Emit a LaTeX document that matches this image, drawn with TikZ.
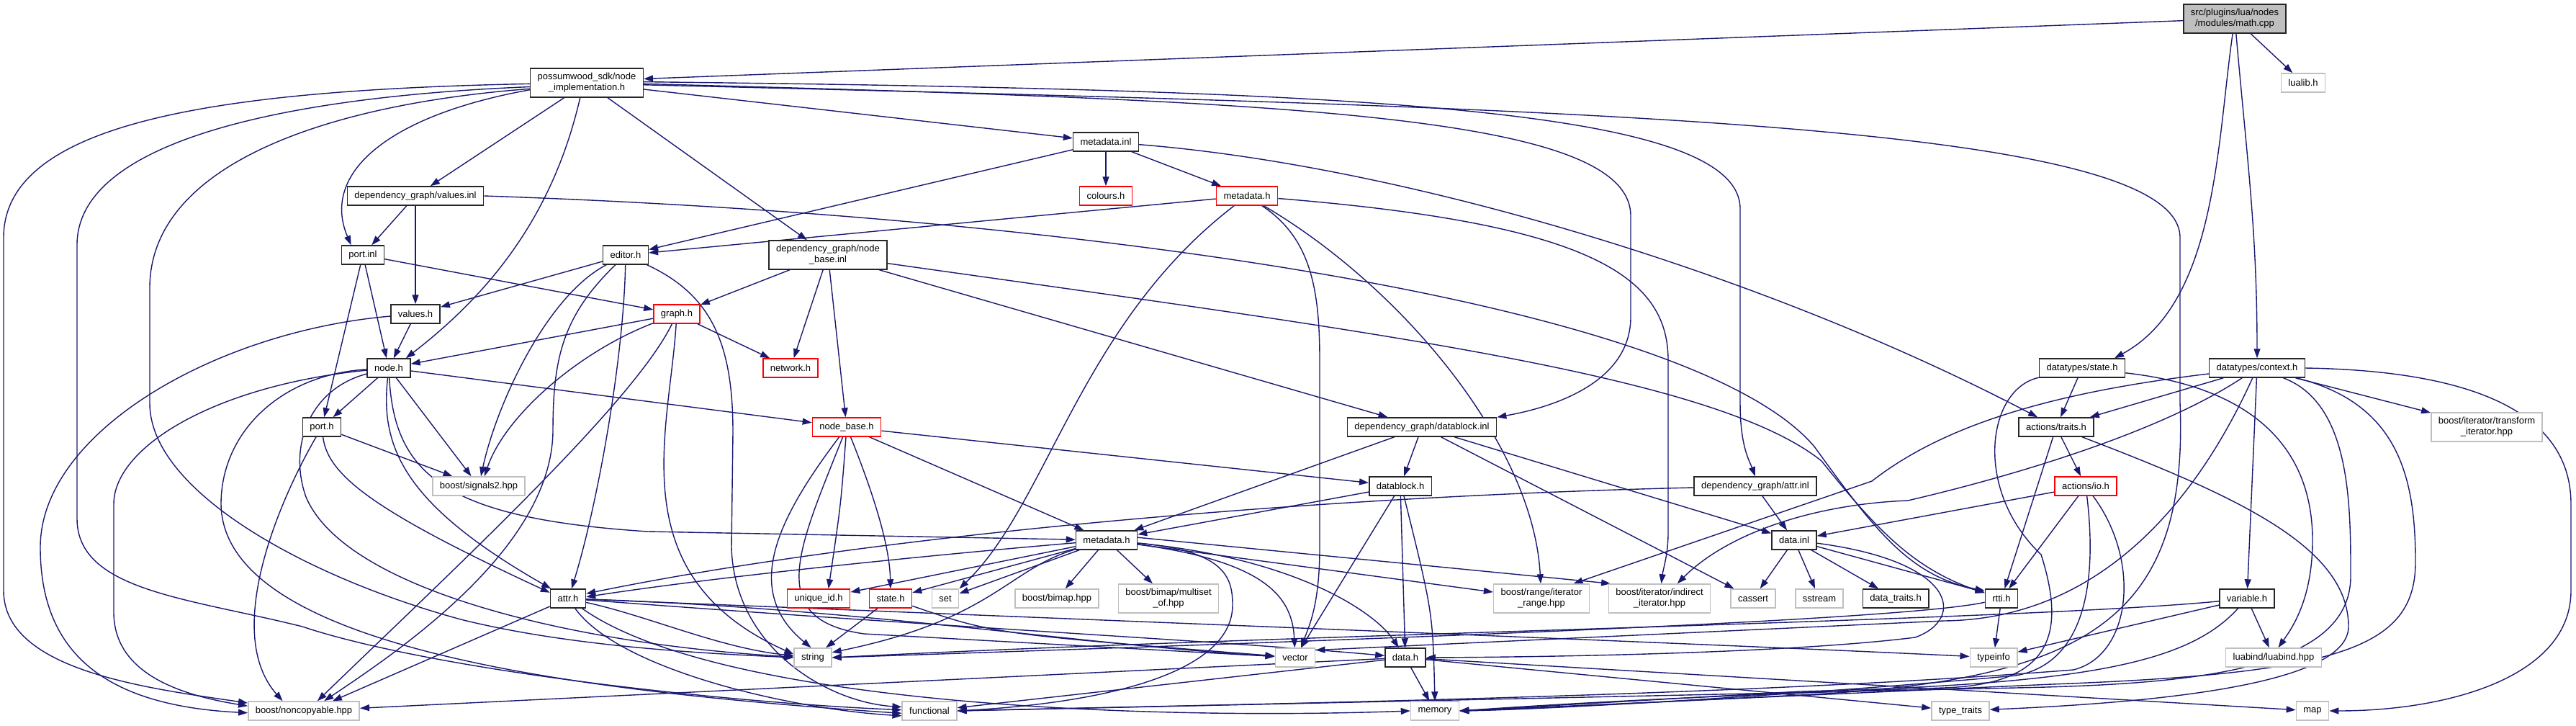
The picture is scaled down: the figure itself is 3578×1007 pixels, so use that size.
\documentclass[tikz,border=0pt]{standalone}
\usepackage{fontspec}
\setmainfont{Liberation Sans}
\usepackage{tikz}
\usetikzlibrary{
  arrows.meta,
  backgrounds
}
\definecolor{inclblue}{RGB}{25,25,112}
\definecolor{sysgray}{RGB}{191,191,191}
\definecolor{cutred}{RGB}{255,0,0}
\tikzset{
  filebox/.style={
    draw,
    line width=1.5pt,
    fill=white,
    align=center,
    inner xsep=10pt,
    inner ysep=0pt,
    minimum height=26pt,
    font=\fontsize{13}{15}\selectfont
  },
  twoline/.style={minimum height=40pt},
  docfile/.style={filebox,draw=black!85},
  cutfile/.style={filebox,draw=cutred},
  sysfile/.style={filebox,draw=sysgray},
  rootfile/.style={filebox,draw=black!85,fill=sysgray,twoline},
  incl/.style={-{Triangle[length=13pt,width=9pt]},line width=1.4pt,draw=inclblue,line join=round}
}
\begin{document}
\begin{tikzpicture}[x=1pt,y=-1pt]
  \useasboundingbox (0,0) rectangle (3578,1007);
  \node[rootfile] (mathcpp) at (3104,26) {src/plugins/lua/nodes\\/modules/math.cpp};
  \node[sysfile] (lualib) at (3199,115) {lualib.h};
  \node[docfile,twoline] (nodeimpl) at (815,115) {possumwood\_sdk/node\\\_implementation.h};
  \node[docfile] (metainl) at (1536,197) {metadata.inl};
  \node[docfile] (valuesinl) at (577,272) {dependency\_graph/values.inl};
  \node[cutfile] (colours) at (1536,272) {colours.h};
  \node[cutfile] (metahred) at (1732,272) {metadata.h};
  \node[docfile] (portinl) at (504,354) {port.inl};
  \node[docfile] (editor) at (869,354) {editor.h};
  \node[docfile,twoline] (nodebaseinl) at (1150,354) {dependency\_graph/node\\\_base.inl};
  \node[docfile] (valuesh) at (577,436) {values.h};
  \node[cutfile] (graphh) at (940,436) {graph.h};
  \node[docfile] (nodeh) at (540,511) {node.h};
  \node[cutfile] (networkh) at (1098,511) {network.h};
  \node[docfile] (stateds) at (2892,511) {datatypes/state.h};
  \node[docfile] (contextds) at (3135,511) {datatypes/context.h};
  \node[docfile] (porth) at (447,593) {port.h};
  \node[cutfile] (nodebaseh) at (1176,593) {node\_base.h};
  \node[docfile] (datablockinl) at (1975,593) {dependency\_graph/datablock.inl};
  \node[docfile] (traitsh) at (2856,593) {actions/traits.h};
  \node[sysfile,twoline] (transformit) at (3454,593) {boost/iterator/transform\\\_iterator.hpp};
  \node[sysfile] (signals) at (665,675) {boost/signals2.hpp};
  \node[docfile] (datablockh) at (1945,675) {datablock.h};
  \node[docfile] (attrinl) at (2438,675) {dependency\_graph/attr.inl};
  \node[cutfile] (ioh) at (2897,675) {actions/io.h};
  \node[docfile] (metah) at (1537,750) {metadata.h};
  \node[docfile] (datainl) at (2492,750) {data.inl};
  \node[docfile] (attrh) at (789,831) {attr.h};
  \node[cutfile] (uniqueid) at (1137,831) {unique\_id.h};
  \node[cutfile] (stateh) at (1237,831) {state.h};
  \node[sysfile] (set) at (1313,831) {set};
  \node[sysfile] (bimap) at (1468,831) {boost/bimap.hpp};
  \node[sysfile,twoline] (multiset) at (1623,831) {boost/bimap/multiset\\\_of.hpp};
  \node[sysfile,twoline] (iterrange) at (2141,831) {boost/range/iterator\\\_range.hpp};
  \node[sysfile,twoline] (indirect) at (2305,831) {boost/iterator/indirect\\\_iterator.hpp};
  \node[sysfile] (cassert) at (2435,831) {cassert};
  \node[sysfile] (sstream) at (2527,831) {sstream};
  \node[docfile] (datatraits) at (2633,831) {data\_traits.h};
  \node[docfile] (rttih) at (2780,831) {rtti.h};
  \node[docfile] (variableh) at (3121,831) {variable.h};
  \node[sysfile] (string) at (1129,913) {string};
  \node[sysfile] (vector) at (1799,913) {vector};
  \node[docfile] (datah) at (1952,913) {data.h};
  \node[sysfile] (typeinfo) at (2769,913) {typeinfo};
  \node[sysfile] (luabind) at (3158,913) {luabind/luabind.hpp};
  \node[sysfile] (noncopyable) at (422,987) {boost/noncopyable.hpp};
  \node[sysfile] (functional) at (1291,987) {functional};
  \node[sysfile] (memory) at (1993,987) {memory};
  \node[sysfile] (typetraits) at (2723,987) {type\_traits};
  \node[sysfile] (map) at (3212,987) {map};
  \begin{scope}[on background layer]
    \draw[incl] (mathcpp) -- (nodeimpl.4);
    \draw[incl] (mathcpp) -- (lualib);
    \draw[incl] (mathcpp.262) .. controls (3079,200) and (3079,420) .. (stateds.17);
    \draw[incl] (mathcpp.275) to[out=-85,in=90] (contextds.north);
    \draw[incl] (nodeimpl.181) .. controls (300,125) and (5,170) .. (5,330) -- (5,820) .. controls (5,930) and (200,955) .. (noncopyable.172);
    \draw[incl] (nodeimpl.184) .. controls (380,135) and (107,200) .. (107,340) -- (107,720) .. controls (107,820) and (260,830) .. (420,870) .. controls (600,930) and (1000,975) .. (functional.178);
    \draw[incl] (nodeimpl.186) .. controls (450,145) and (208,230) .. (208,400) -- (208,560) .. controls (208,680) and (420,800) .. (640,860) .. controls (800,900) and (1000,908) .. (string.west);
    \draw[incl] (nodeimpl.187) .. controls (540,160) and (445,240) .. (portinl.140);
    \draw[incl] (nodeimpl) -- (valuesinl);
    \draw[incl] (nodeimpl.246) .. controls (770,290) and (690,400) .. (nodeh.30);
    \draw[incl] (nodeimpl) -- (nodebaseinl);
    \draw[incl] (nodeimpl) -- (metainl);
    \draw[incl] (nodeimpl.359) .. controls (1800,140) and (2265,160) .. (2265,300) -- (2265,440) .. controls (2265,530) and (2160,565) .. (datablockinl.north east);
    \draw[incl] (nodeimpl.1) .. controls (1900,125) and (2417,150) .. (2417,290) -- (2417,560) .. controls (2417,620) and (2430,640) .. (attrinl.north);
    \draw[incl] (nodeimpl.358) .. controls (2200,150) and (3028,170) .. (3028,330) -- (3028,560) .. controls (3040,860) and (2900,945) .. (2500,965) .. controls (2200,980) and (2100,985) .. (memory.east);
    \draw[incl] (metainl) -- (colours);
    \draw[incl] (metainl) -- (metahred);
    \draw[incl] (metainl) -- (editor);
    \draw[incl] (metainl) .. controls (1950,230) and (2450,380) .. (traitsh.152);
    \draw[incl] (valuesinl) -- (portinl);
    \draw[incl] (valuesinl) -- (valuesh);
    \draw[incl] (valuesinl.east) .. controls (1500,300) and (2350,420) .. (2520,620) .. controls (2600,730) and (2650,800) .. (rttih.155);
    \draw[incl] (portinl) -- (nodeh);
    \draw[incl] (portinl) -- (porth);
    \draw[incl] (portinl) -- (graphh);
    \draw[incl] (editor) -- (valuesh);
    \draw[incl] (editor) .. controls (760,410) and (690,560) .. (signals);
    \draw[incl] (editor) .. controls (780,440) and (768,500) .. (768,600) .. controls (765,760) and (560,900) .. (noncopyable.26);
    \draw[incl] (editor) .. controls (866,500) and (830,700) .. (attrh.70);
    \draw[incl] (editor) .. controls (990,410) and (1018,480) .. (1018,600) -- (1016,760) .. controls (1020,900) and (1150,975) .. (functional.172);
    \draw[incl] (valuesh) -- (nodeh);
    \draw[incl] (valuesh) .. controls (300,460) and (56,600) .. (56,760) .. controls (56,910) and (150,980) .. (noncopyable.182);
    \draw[incl] (graphh) -- (nodeh);
    \draw[incl] (graphh) -- (networkh);
    \draw[incl] (graphh) .. controls (800,490) and (700,580) .. (signals.60);
    \draw[incl] (graphh) .. controls (880,560) and (620,800) .. (noncopyable.36);
    \draw[incl] (graphh) .. controls (930,600) and (860,800) .. (string.170);
    \draw[incl] (nodeh) -- (porth);
    \draw[incl] (nodeh) -- (signals);
    \draw[incl] (nodeh) -- (nodebaseh);
    \draw[incl] (nodeh) .. controls (548,660) and (620,720) .. (900,738) -- (metah);
    \draw[incl] (nodeh) .. controls (528,620) and (560,700) .. (attrh.150);
    \draw[incl] (nodeh) .. controls (300,535) and (158,620) .. (158,700) -- (158,850) .. controls (158,935) and (250,965) .. (noncopyable.175);
    \draw[incl] (nodeh) .. controls (390,520) and (307,600) .. (307,700) .. controls (310,900) and (800,960) .. (functional.185);
    \draw[incl] (nodeh) .. controls (430,540) and (400,620) .. (425,690) .. controls (480,820) and (800,895) .. (string.178);
    \draw[incl] (porth) -- (signals);
    \draw[incl] (porth) .. controls (385,700) and (310,880) .. (noncopyable.155);
    \draw[incl] (porth) .. controls (455,660) and (520,710) .. (attrh.162);
    \draw[incl] (nodebaseinl) -- (graphh);
    \draw[incl] (nodebaseinl) -- (networkh);
    \draw[incl] (nodebaseinl) -- (nodebaseh);
    \draw[incl] (nodebaseinl) -- (datablockinl);
    \draw[incl] (nodebaseinl) .. controls (1900,460) and (2380,520) .. (2530,640) .. controls (2610,740) and (2660,790) .. (rttih.162);
    \draw[incl] (nodebaseh) .. controls (1080,720) and (1030,820) .. (string.100);
    \draw[incl] (nodebaseh) .. controls (1110,760) and (1060,860) .. (1200,880) -- (vector);
    \draw[incl] (nodebaseh) .. controls (1168,700) .. (uniqueid.45);
    \draw[incl] (nodebaseh) .. controls (1215,690) and (1236,760) .. (stateh);
    \draw[incl] (nodebaseh) -- (metah);
    \draw[incl] (nodebaseh) -- (datablockh);
    \draw[incl] (metahred) -- (editor);
    \draw[incl] (metahred) .. controls (1500,450) and (1455,700) .. (set.35);
    \draw[incl] (metahred) .. controls (1820,330) and (1833,400) .. (1833,500) -- (1833,760) .. controls (1833,840) and (1818,870) .. (vector.60);
    \draw[incl] (metahred) .. controls (1950,400) and (2130,620) .. (iterrange);
    \draw[incl] (metahred) .. controls (2200,310) and (2317,380) .. (2317,500) -- (2317,740) .. controls (2317,770) and (2310,790) .. (indirect);
    \draw[incl] (datablockinl) -- (datablockh);
    \draw[incl] (datablockinl) -- (metah);
    \draw[incl] (datablockinl) -- (cassert);
    \draw[incl] (datablockinl) -- (datainl);
    \draw[incl] (datablockh) -- (datah);
    \draw[incl] (datablockh) -- (vector);
    \draw[incl] (datablockh.290) .. controls (1990,850) .. (memory.north);
    \draw[incl] (datablockh) -- (metah);
    \draw[incl] (attrinl) -- (datainl);
    \draw[incl] (attrinl) .. controls (1800,690) and (1200,745) .. (attrh.15);
    \draw[incl] (attrh) -- (noncopyable.19);
    \draw[incl] (attrh) .. controls (1500,860) and (2400,895) .. (typeinfo);
    \draw[incl] (attrh) .. controls (1200,845) and (1500,895) .. (vector);
    \draw[incl] (attrh) .. controls (900,855) and (1000,900) .. (string);
    \draw[incl] (attrh) .. controls (860,930) and (1100,985) .. (functional.190);
    \draw[incl] (attrh) .. controls (1000,980) and (1600,1000) .. (memory.west);
    \draw[incl] (attrh) .. controls (1300,870) and (1700,890) .. (datah);
    \draw[incl] (metah) .. controls (1300,770) and (1000,800) .. (attrh.5);
    \draw[incl] (metah) -- (uniqueid);
    \draw[incl] (metah) -- (stateh);
    \draw[incl] (metah) -- (set);
    \draw[incl] (metah) .. controls (1400,790) and (1380,860) .. (string.15);
    \draw[incl] (metah) -- (bimap);
    \draw[incl] (metah) -- (multiset);
    \draw[incl] (metah) -- (iterrange);
    \draw[incl] (metah.5) -- (indirect.163);
    \draw[incl] (metah) .. controls (1700,765) and (1712,800) .. (1712,840) .. controls (1712,930) and (1550,975) .. (functional.east);
    \draw[incl] (metah) .. controls (1760,780) and (1795,830) .. (vector);
    \draw[incl] (metah) .. controls (1800,775) and (1910,850) .. (datah);
    \draw[incl] (stateh) -- (string);
    \draw[incl] (stateh) .. controls (1380,880) .. (vector);
    \draw[incl] (datainl) -- (cassert);
    \draw[incl] (datainl) -- (sstream);
    \draw[incl] (datainl) -- (datatraits);
    \draw[incl] (datainl) -- (rttih.160);
    \draw[incl] (datainl) .. controls (2720,780) and (2730,860) .. (2660,885) .. controls (2500,905) and (2200,912) .. (datah.east);
    \draw[incl] (datah) -- (memory);
    \draw[incl] (datah) -- (noncopyable);
    \draw[incl] (datah) -- (functional);
    \draw[incl] (datah) -- (typetraits);
    \draw[incl] (datah) -- (map);
    \draw[incl] (traitsh) -- (ioh);
    \draw[incl] (traitsh) -- (rttih);
    \draw[incl] (traitsh) .. controls (3110,690) and (3262,760) .. (3262,870) .. controls (3262,950) and (3000,975) .. (typetraits);
    \draw[incl] (ioh) -- (rttih);
    \draw[incl] (ioh) -- (datainl);
    \draw[incl] (ioh) .. controls (2912,800) and (2900,920) .. (2800,938) .. controls (2500,965) and (2150,985) .. (memory.east);
    \draw[incl] (ioh) .. controls (2975,780) and (2960,910) .. (2880,930) .. controls (2400,968) and (1700,978) .. (functional.east);
    \draw[incl] (stateds) -- (traitsh);
    \draw[incl] (stateds) .. controls (3150,540) and (3212,640) .. (3212,750) .. controls (3212,830) and (3185,870) .. (luabind.65);
    \draw[incl] (stateds) .. controls (2760,540) and (2740,680) .. (2835,770) .. controls (2870,880) and (2850,950) .. (2700,955) .. controls (2400,965) and (2200,975) .. (memory.east);
    \draw[incl] (contextds) -- (traitsh);
    \draw[incl] (contextds) -- (variableh);
    \draw[incl] (contextds) -- (transformit);
    \draw[incl] (contextds.east) .. controls (3450,515) and (3571,580) .. (3571,700) -- (3571,820) .. controls (3571,940) and (3400,987) .. (map.east);
    \draw[incl] (contextds) .. controls (2850,545) and (2700,590) .. (2600,668) -- (iterrange.25);
    \draw[incl] (contextds) .. controls (3000,600) and (2800,660) .. (2650,695) .. controls (2520,700) and (2400,740) .. (indirect.40);
    \draw[incl] (contextds) .. controls (3040,720) and (2900,860) .. (2700,862) -- (vector.20);
    \draw[incl] (contextds) .. controls (3265,560) and (3265,700) .. (3265,800) .. controls (3265,930) and (3050,950) .. (2800,955) -- (functional.east);
    \draw[incl] (contextds) .. controls (3330,560) and (3355,660) .. (3355,780) .. controls (3355,900) and (3250,935) .. (2850,950) -- (memory.east);
    \draw[incl] (variableh) -- (typeinfo);
    \draw[incl] (variableh) -- (luabind);
    \draw[incl] (variableh) .. controls (2800,862) and (1800,880) .. (string.east);
    \draw[incl] (variableh) .. controls (3040,920) and (2900,950) .. (2500,960) -- (memory.east);
    \draw[incl] (rttih) -- (typeinfo);
    \draw[incl] (rttih) .. controls (2650,860) and (2000,885) .. (string.east);
  \end{scope}
\end{tikzpicture}
\end{document}
